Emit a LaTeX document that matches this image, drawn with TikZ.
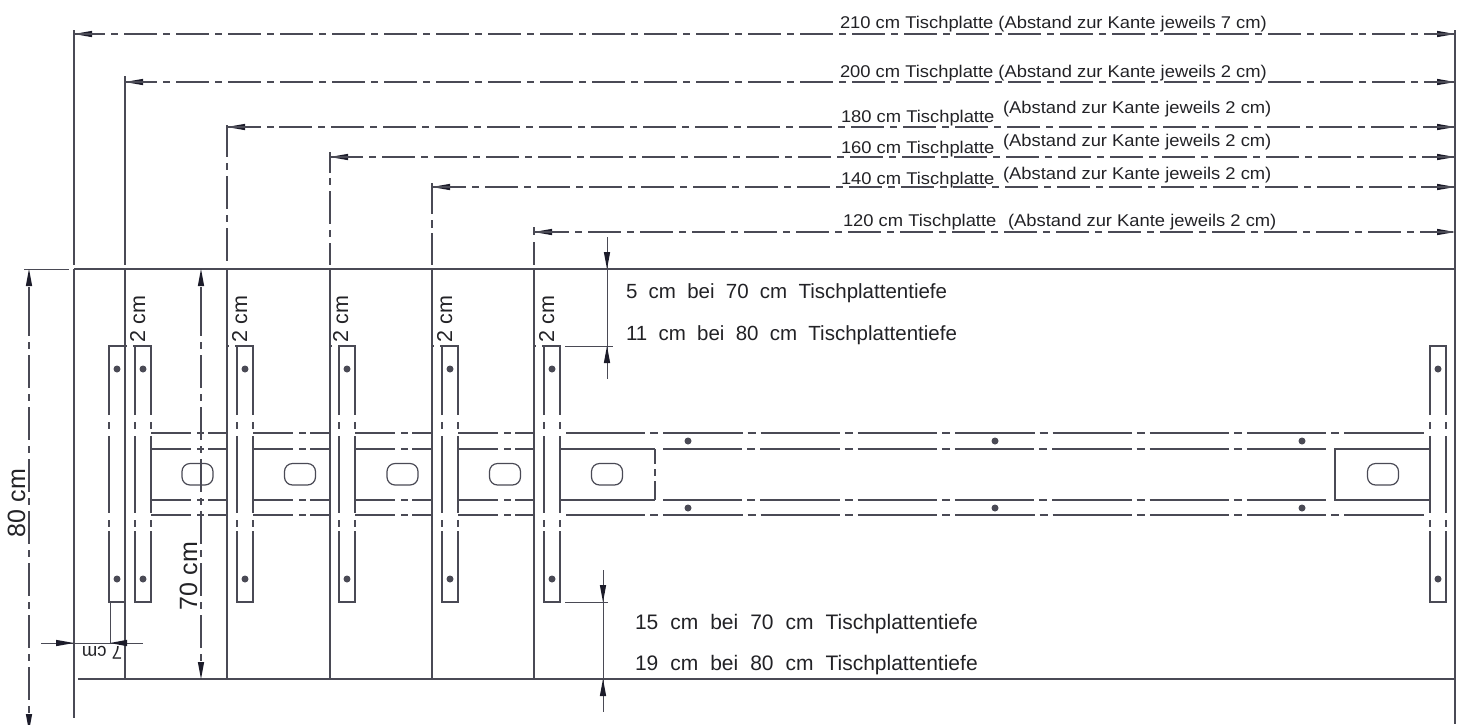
\documentclass[tikz,border=0pt]{standalone}
\usepackage{fontspec}
\setmainfont{Liberation Sans}
\definecolor{ln}{HTML}{4A4A55}
\definecolor{hd}{HTML}{1C1C2A}
\definecolor{tx}{HTML}{222226}
\tikzset{
  ln/.style={draw=ln,line width=1.2pt},
  thin ln/.style={draw=ln,line width=1pt},
  dimdash/.style={draw=ln,line width=1.2pt,dash pattern=on 33pt off 6pt on 7pt off 6pt},
  raildash/.style={draw=ln,line width=1.5pt,dash pattern=on 79.3pt off 5pt on 8pt off 5pt},
  head/.style={fill=hd,draw=none},
  lbl/.style={anchor=base west,inner sep=0pt,outer sep=0pt,text=tx},
  dotc/.style={fill=ln,draw=none},
  slot/.style={draw=ln,line width=1.2pt,rounded corners=8pt}
}
\newcommand{\arrR}[2]{\fill[head] (#1,#2) -- ++(-18,-3.2) -- ++(0,6.4) -- cycle;}
\newcommand{\arrL}[2]{\fill[head] (#1,#2) -- ++(18,-3.2) -- ++(0,6.4) -- cycle;}
\newcommand{\arrU}[2]{\fill[head] (#1,#2) -- ++(-3.2,17) -- ++(6.4,0) -- cycle;}
\newcommand{\arrD}[2]{\fill[head] (#1,#2) -- ++(-3.2,-17) -- ++(6.4,0) -- cycle;}
\newcommand{\bracket}[1]{
  \draw[ln] (#1,415) -- (#1,346) -- (#1+16,346) -- (#1+16,415);
  \draw[ln] (#1,422) -- (#1,429) (#1+16,422) -- (#1+16,429);
  \draw[ln] (#1,436) -- (#1,513) (#1+16,436) -- (#1+16,513);
  \draw[ln] (#1,520) -- (#1,527) (#1+16,520) -- (#1+16,527);
  \draw[ln] (#1,531) -- (#1,602) -- (#1+16,602) -- (#1+16,531);
  \fill[dotc] (#1+8,369) circle (3.5) (#1+8,579) circle (3.5);
}
\newcommand{\railsec}[2]{
  \foreach \yy in {433,449,500,515}{
    \draw[ln] (#1,\yy) -- (#1+40,\yy) (#1+46,\yy) -- (#1+53,\yy) (#1+57,\yy) -- (#2,\yy);
  }
}
\newcommand{\tick}[1]{\draw[ln] (#1,346) -- (#1+2,346) (#1+8,346) -- (#1+10,346);}
\newcommand{\slotat}[1]{\draw[slot] (#1-15.5,463.5) rectangle (#1+15.5,485);}
\newcommand{\topdim}[4]{% y, x left, x of first long dash, tick start before
  \arrL{#2}{#1}
  \arrR{1455}{#1}
  \draw[ln] (#2,#1) -- (#4-6,#1);
  \draw[ln] (#4,#1) -- (#4+7,#1);
  \draw[dimdash] (#3,#1) -- (1455,#1);
}
\newcommand{\widesp}{\spaceskip=0.55em\relax}
\newcommand{\widerp}{\spaceskip=0.57em\relax}
\newcommand{\wdtxt}[1]{\scalebox{1.08}[1]{#1}}
\begin{document}
\begin{tikzpicture}[x=1pt,y=-1pt]
\useasboundingbox (0,0) rectangle (1464,724);
\clip (0,0) rectangle (1464,724);
% table outline
\draw[ln] (74,269) -- (1455,269);
\draw[ln] (74,269) -- (74,718);
\draw[ln] (1455,30) -- (1455,724);
\draw[ln] (78,679) -- (1455,679);
\foreach \x in {125,227,330,432,534} \draw[ln] (\x,269) -- (\x,679);
% extension lines top
\draw[ln] (74,30) -- (74,265);
\draw[ln] (125,76) -- (125,265);
\draw[ln] (227,125) -- (227,157) (227,163) -- (227,170) (227,176) -- (227,209) (227,215) -- (227,222) (227,228) -- (227,261);
\draw[ln] (330,152) -- (330,173) (330,178) -- (330,185) (330,191) -- (330,224) (330,230) -- (330,237) (330,243) -- (330,265);
\draw[ln] (432,183) -- (432,214) (432,220) -- (432,228) (432,233) -- (432,265);
\draw[ln] (534,227) -- (534,235) (534,242) -- (534,265);
% top dims
\topdim{34}{74}{124}{111}
\topdim{82}{125}{176}{163}
\topdim{127}{227}{279}{267}
\topdim{157}{330}{382}{369}
\topdim{187}{432}{485}{472}
\topdim{232}{534}{588}{575}
% brackets
\foreach \x in {109,135,237,339,442,544,1430} {\bracket{\x}}
\tick{125}\tick{227}\tick{330}\tick{432}\tick{534}
\railsec{151}{227}
\railsec{253}{330}
\railsec{355}{432}
\railsec{458}{534}
% long rails
\draw[ln] (560,449) -- (655,449) (560,500) -- (655,500);
\draw[ln] (655,449) -- (655,464) (655,469) -- (655,476) (655,481) -- (655,500);
\draw[raildash] (566,433) -- (1424,433);
\draw[raildash] (566,515) -- (1424,515);
\draw[raildash] (663,449) -- (1327,449);
\draw[raildash] (663,500) -- (1327,500);
\draw[ln] (1335,449) rectangle (1430,500);
\foreach \x in {688,995,1302} \fill[dotc] (\x,441) circle (3.5) (\x,508) circle (3.5);
\foreach \x in {197.5,300,402.5,505,607,1383} {\slotat{\x}}
% left dims
\draw[thin ln] (24,269) -- (69,269);
\draw[ln] (29,287) -- (29,336) (29,342) -- (29,349);
\draw[dimdash] (29,355) -- (29,713);
\arrU{29}{269}
\arrD{29}{731}
\draw[ln] (201,287) -- (201,336) (201,342) -- (201,349);
\draw[dimdash] (201,355) -- (201,662);
\arrU{201}{269}
\arrD{201}{679}
% 7 cm
\draw[thin ln] (41,643) -- (143,643);
\draw[thin ln] (110,602) -- (110,643);
\arrR{74}{643}
\fill[head] (110,643) -- ++(17,-3.2) -- ++(0,6.4) -- cycle;
% depth dims
\draw[thin ln] (565,346) -- (613,346);
\draw[thin ln] (607,237) -- (607,379);
\arrD{607}{269}
\arrU{607}{346}
\draw[thin ln] (565,602) -- (608,602);
\draw[thin ln] (603,570) -- (603,712);
\arrD{603}{602}
\arrU{603}{679}
% labels top
\tikzset{toplbl/.style={lbl,font=\fontsize{17}{17}\selectfont}}
\node[toplbl] (t210) at (840,28) {\wdtxt{210 cm Tischplatte (Abstand zur Kante jeweils 7 cm)}};
\node[toplbl] (t200) at (840,77) {\wdtxt{200 cm Tischplatte (Abstand zur Kante jeweils 2 cm)}};
\node[toplbl] (t180) at (841,122) {\wdtxt{180 cm Tischplatte}};
\node[toplbl] (p180) at (1003,113) {\wdtxt{(Abstand zur Kante jeweils 2 cm)}};
\node[toplbl] (t160) at (841,153) {\wdtxt{160 cm Tischplatte}};
\node[toplbl] (p160) at (1003,146) {\wdtxt{(Abstand zur Kante jeweils 2 cm)}};
\node[toplbl] (t140) at (841,184) {\wdtxt{140 cm Tischplatte}};
\node[toplbl] (p140) at (1003,179) {\wdtxt{(Abstand zur Kante jeweils 2 cm)}};
\node[toplbl] (t120) at (843,226) {\wdtxt{120 cm Tischplatte}};
\node[toplbl] (p120) at (1008,226) {\wdtxt{(Abstand zur Kante jeweils 2 cm)}};
% labels right-hand depth
\tikzset{deep/.style={lbl,font=\fontsize{20.5}{20.5}\selectfont},deeper/.style={lbl,font=\fontsize{21}{21}\selectfont}}
\node[deep] (d5) at (626,298) {\widesp 5 cm bei 70 cm Tischplattentiefe};
\node[deep] (d11) at (626,340) {\widesp 11 cm bei 80 cm Tischplattentiefe};
\node[deeper] (d15) at (635,629) {\widerp 15 cm bei 70 cm Tischplattentiefe};
\node[deeper] (d19) at (635,670) {\widerp 19 cm bei 80 cm Tischplattentiefe};
% rotated
\node[lbl,rotate=90,font=\fontsize{25}{25}\selectfont] (l80) at (25,537) {80 cm};
\node[lbl,rotate=90,font=\fontsize{25}{25}\selectfont] (l70) at (197,610) {70 cm};
\foreach \x/\n in {145/a,247/b,348/c,452/d,554/e}
  \node[lbl,rotate=90,font=\fontsize{21.5}{21.5}\selectfont] (two\n) at (\x,342) {2 cm};
\node[lbl,rotate=180,font=\fontsize{18.5}{18.5}\selectfont] (l7) at (122,646) {7 cm};
\end{tikzpicture}
\end{document}
